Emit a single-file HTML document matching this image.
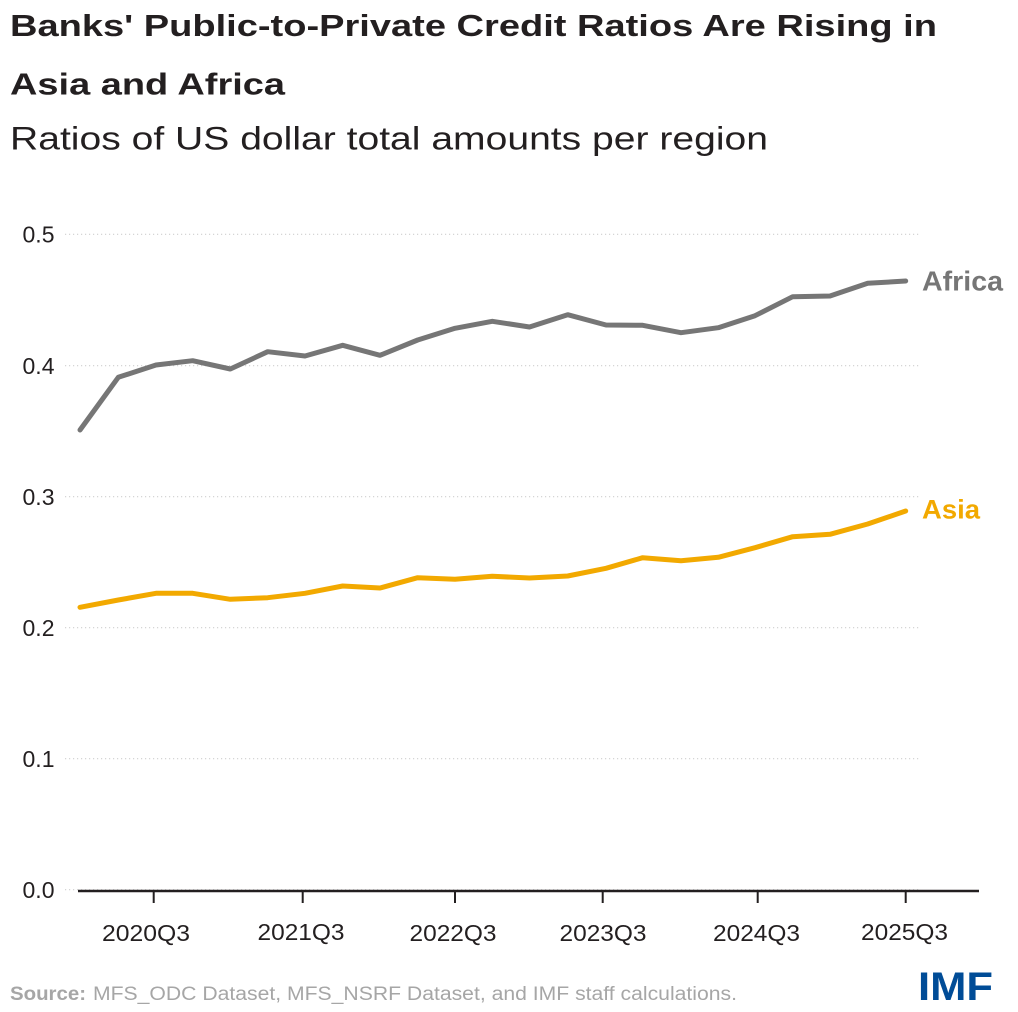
<!DOCTYPE html>
<html>
<head>
<meta charset="utf-8">
<style>
  html, body { margin: 0; padding: 0; background: #ffffff; }
  body { width: 1018px; height: 1012px; overflow: hidden; }
  svg { display: block; font-family: "Liberation Sans", "DejaVu Sans", sans-serif; }
</style>
</head>
<body>
<svg width="1018" height="1012" viewBox="0 0 1018 1012" xmlns="http://www.w3.org/2000/svg">
  <rect x="0" y="0" width="1018" height="1012" fill="#ffffff"/>

  <!-- Title -->
  <text x="10" y="36" font-size="31" font-weight="bold" fill="#231f20" textLength="927" lengthAdjust="spacingAndGlyphs">Banks' Public-to-Private Credit Ratios Are Rising in</text>
  <text x="10" y="94.3" font-size="31" font-weight="bold" fill="#231f20" textLength="275" lengthAdjust="spacingAndGlyphs">Asia and Africa</text>
  <!-- Subtitle -->
  <text x="10" y="149.3" font-size="32" fill="#231f20" textLength="758" lengthAdjust="spacingAndGlyphs">Ratios of US dollar total amounts per region</text>

  <!-- Gridlines -->
  <g stroke="#cfcfcf" stroke-width="1.2" stroke-dasharray="1.2 2.8">
    <line x1="65" y1="234.3" x2="919" y2="234.3"/>
    <line x1="65" y1="365.7" x2="919" y2="365.7"/>
    <line x1="65" y1="496.7" x2="919" y2="496.7"/>
    <line x1="65" y1="627.7" x2="919" y2="627.7"/>
    <line x1="65" y1="758.7" x2="919" y2="758.7"/>
    <line x1="65" y1="889.7" x2="919" y2="889.7"/>
  </g>

  <!-- Y axis labels -->
  <g font-size="23" fill="#231f20" text-anchor="end">
    <text x="54.5" y="242.7">0.5</text>
    <text x="54.5" y="374.1">0.4</text>
    <text x="54.5" y="505.1">0.3</text>
    <text x="54.5" y="636.1">0.2</text>
    <text x="54.5" y="767.1">0.1</text>
    <text x="54.5" y="898.1">0.0</text>
  </g>

  <!-- X axis -->
  <line x1="78" y1="891" x2="979" y2="891" stroke="#231f20" stroke-width="2.6"/>
  <g stroke="#231f20" stroke-width="2">
    <line x1="153.7" y1="891" x2="153.7" y2="903"/>
    <line x1="302.7" y1="891" x2="302.7" y2="903"/>
    <line x1="455" y1="891" x2="455" y2="903"/>
    <line x1="602.7" y1="891" x2="602.7" y2="903"/>
    <line x1="757.7" y1="891" x2="757.7" y2="903"/>
    <line x1="905.7" y1="891" x2="905.7" y2="903"/>
  </g>
  <g font-size="23" fill="#231f20">
    <text x="102" y="941" textLength="88" lengthAdjust="spacingAndGlyphs">2020Q3</text>
    <text x="257.5" y="940" textLength="87" lengthAdjust="spacingAndGlyphs">2021Q3</text>
    <text x="409.5" y="941" textLength="87" lengthAdjust="spacingAndGlyphs">2022Q3</text>
    <text x="559.5" y="941" textLength="87" lengthAdjust="spacingAndGlyphs">2023Q3</text>
    <text x="713" y="941" textLength="87" lengthAdjust="spacingAndGlyphs">2024Q3</text>
    <text x="861" y="940" textLength="87" lengthAdjust="spacingAndGlyphs">2025Q3</text>
  </g>

  <!-- Africa series -->
  <polyline fill="none" stroke="#767676" stroke-width="5" stroke-linejoin="round" stroke-linecap="round"
    points="80,430 118.3,377.3 156,365 192.7,360.7 230.3,369 267.7,351.7 305,356 342.7,345.3 380,355.3 417.7,340 455,328.3 492.3,321.3 529.5,327 567.7,314.7 606,325 642.7,325.3 681,332.7 718.3,327.7 755,315.7 792.7,296.7 830,296 867.7,283.3 905.7,281"/>
  <!-- Asia series -->
  <polyline fill="none" stroke="#f2a900" stroke-width="5" stroke-linejoin="round" stroke-linecap="round"
    points="80,607.3 118.3,600 156,593.3 192.7,593.3 230.3,599.3 267.7,597.7 305,593.3 342.7,586 380,588 417.7,577.7 455,579.3 492.3,576.3 529.5,578 567.7,576 606,568.3 642.7,557.7 681,560.7 718.3,557.3 755,547.7 792.7,536.7 830,534.3 867.7,524 905.7,511"/>

  <!-- Series labels -->
  <text x="922" y="290.7" font-size="28" font-weight="bold" fill="#767676" textLength="81" lengthAdjust="spacingAndGlyphs">Africa</text>
  <text x="922" y="518.5" font-size="27" font-weight="bold" fill="#f2a900" textLength="58" lengthAdjust="spacingAndGlyphs">Asia</text>

  <!-- Source -->
  <text x="10" y="1000" font-size="19" font-weight="bold" fill="#a6a6a6" textLength="76" lengthAdjust="spacingAndGlyphs">Source:</text>
  <text x="93" y="1000" font-size="19" fill="#a6a6a6" textLength="644" lengthAdjust="spacingAndGlyphs">MFS_ODC Dataset, MFS_NSRF Dataset, and IMF staff calculations.</text>

  <!-- IMF logo -->
  <text x="918" y="1000" font-size="40" font-weight="bold" fill="#004c97" textLength="75" lengthAdjust="spacingAndGlyphs">IMF</text>
</svg>
</body>
</html>
